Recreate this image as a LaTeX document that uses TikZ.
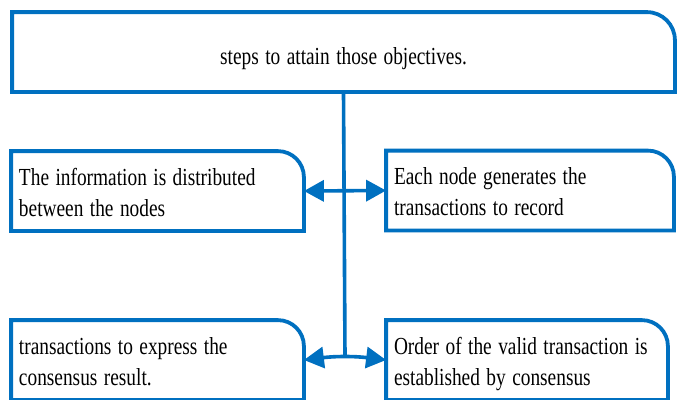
\documentclass[tikz,border=0pt]{standalone}
\usepackage{fontspec}
\usepackage{graphicx}
\setmainfont{Liberation Serif}
\usetikzlibrary{arrows.meta}
\definecolor{flowblue}{RGB}{0,112,192}
% condensed type: glyphs and word spaces narrowed alike
\newcommand\narrow[1]{\scalebox{0.79}[1]{#1}}
\newcommand\oneline[1]{\narrow{\rule[-8pt]{0pt}{40pt}#1}}
\newcommand\twolines[2]{\raisebox{-3.3pt}[\height][\depth]{%
  \narrow{\begin{tabular}{@{}l@{}}#1\\#2\end{tabular}}}}
\tikzset{
  boxnode/.style={rectangle, draw=none, inner xsep=6pt, inner ysep=0pt,
    outer sep=1.9pt, minimum height=76pt, align=left,
    font=\fontsize{24.5}{31}\selectfont},
  boxline/.style={draw=flowblue, line width=3.8pt},
  link/.style={draw=flowblue, line width=3.6pt},
  biarrow/.style={link, {Triangle[length=20pt,width=21pt]}-{Triangle[length=20pt,width=21pt]}}
}
\begin{document}
\begin{tikzpicture}[x=1pt,y=-1pt]
\fill[white] (0,0) rectangle (680,399);
\useasboundingbox (0,0) rectangle (680,399);

% boxes (text holders, positioned by their centres)
\node[boxnode, align=center, text width=647pt] (top) at (343.5,52)
  {\oneline{steps to attain those objectives.}};
\node[boxnode, text width=277pt] (ml) at (157.5,191)
  {\twolines{The information is distributed}{between the nodes}};
\node[boxnode, text width=272pt] (mr) at (530,190.5)
  {\twolines{Each node generates the}{transactions to record}};
\node[boxnode, text width=277pt] (bl) at (157.5,360)
  {\twolines{transactions to express the}{consensus result.}};
\node[boxnode, text width=266pt] (br) at (527,360)
  {\twolines{Order of the valid transaction is}{established by consensus}};

% outlines: square corners except a rounded top-right corner
\foreach \b/\r in {top/28, ml/26, mr/26, bl/26, br/26}{
  \draw[boxline] (\b.south west) -- (\b.north west)
    -- ([xshift=-\r pt]\b.north east)
    arc[start angle=90, end angle=0, radius=\r pt]
    -- (\b.south east) -- cycle;
}

% connectors
\draw[biarrow] (ml.east) -- (mr.west);
\draw[biarrow] (bl.east) to[bend left=7] coordinate[pos=0.5] (j) (br.west);
\draw[link] (top.south) -- (j);
\end{tikzpicture}
\end{document}
